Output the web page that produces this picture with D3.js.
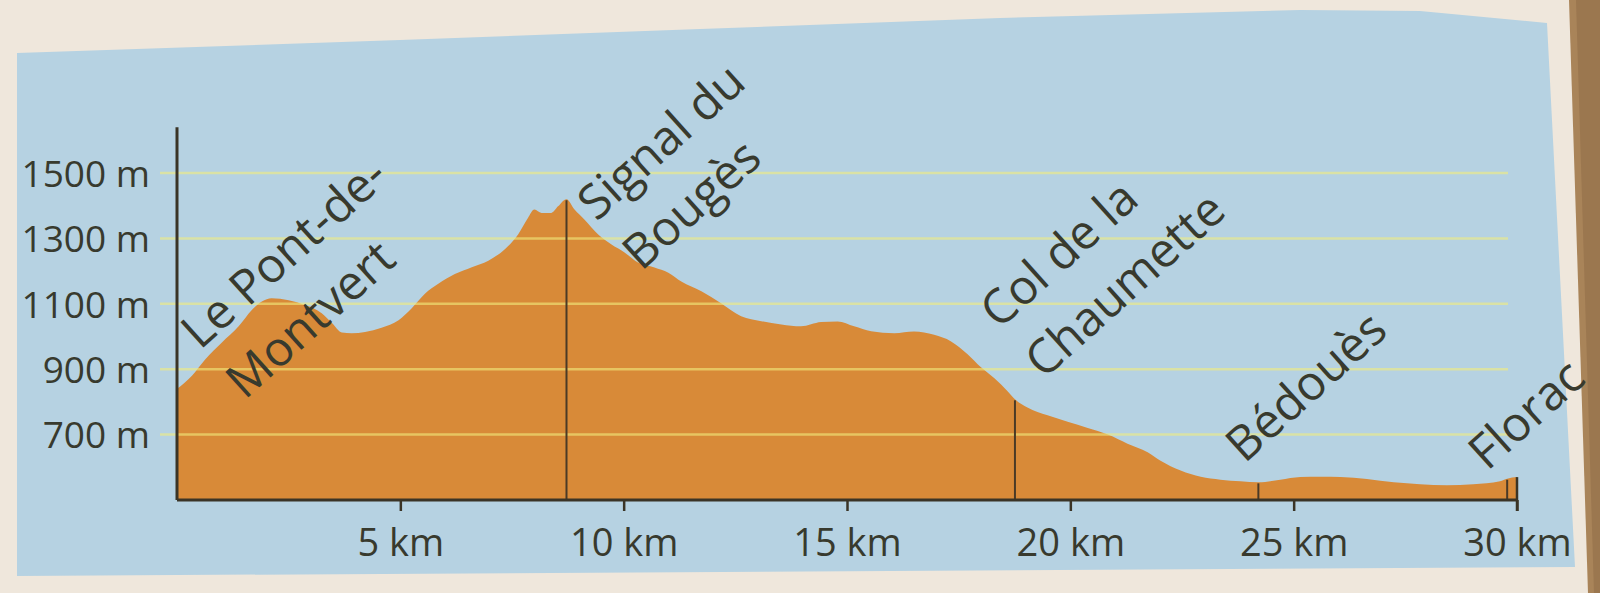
<!DOCTYPE html>
<html>
<head>
<meta charset="utf-8">
<script src="https://cdn.jsdelivr.net/npm/d3@7"></script>
<style>
  html, body { margin: 0; padding: 0; background: #efe7dc; }
  svg { display: block; }
  text { font-family: "Open Sans", "DejaVu Sans", sans-serif; fill: #383a2e; }
</style>
</head>
<body>
<svg id="chart" width="1600" height="593"></svg>
<script>
// ---- data ----
const distanceKm = [0.0,0.34,0.63,1.0,1.38,1.68,1.9,2.12,2.5,2.87,3.24,3.47,3.69,3.91,4.21,4.58,4.96,5.25,5.55,5.85,6.22,6.6,6.97,7.34,7.64,7.86,8.0,8.16,8.38,8.53,8.72,8.9,9.12,9.43,9.72,10.02,10.32,10.69,11.0,11.29,11.74,12.18,12.63,13.08,13.53,13.97,14.42,14.79,15.16,15.54,16.06,16.5,16.95,17.33,17.7,18.0,18.3,18.6,18.76,19.04,19.49,19.94,20.39,20.84,21.28,21.73,22.02,22.47,22.92,23.36,23.81,24.21,24.7,25.15,25.6,26.05,26.64,27.24,27.83,28.43,29.02,29.62,29.78,30.0];
const elevationM = [840,881,930,981,1031,1082,1107,1117,1111,1096,1071,1041,1012,1010,1014,1027,1050,1086,1131,1161,1191,1212,1232,1267,1313,1363,1388,1378,1378,1398,1420,1388,1358,1312,1282,1257,1226,1211,1195,1168,1138,1102,1062,1047,1037,1031,1044,1046,1031,1016,1010,1015,1005,985,946,906,872,832,808,783,759,739,720,700,672,646,620,590,571,562,557,554,562,570,571,570,564,554,548,545,548,557,565,570];

const placeLines = [["Le Pont-de-", "Montvert"], ["Signal du", "Bougès"], ["Col de la", "Chaumette"], ["Bédouès"], ["Florac"]];
const placeKm = [0, 8.72, 18.76, 24.21, 29.78];
const placeHasMarker = [false, true, true, true, true];

const yTicks = [700, 900, 1100, 1300, 1500];
const yTickLabels = ["700 m", "900 m", "1100 m", "1300 m", "1500 m"];
const xTicks = [5, 10, 15, 20, 25, 30];
const xTickLabels = ["5 km", "10 km", "15 km", "20 km", "25 km", "30 km"];

// ---- layout (not data) ----
const labelOffsets = [[23, -38], [30, 23], [-16, -69], [-14, -18], [-20, -7]];
const panelOutline = [[17,53],[400,40],[700,29],[1000,18],[1300,10],[1420,11],[1547,23],[1575,567],[17,576]];

const svg = d3.select("#chart");
const profile = distanceKm.map((d, i) => ({km: d, m: elevationM[i]}));

const x = d3.scaleLinear().domain([0, 30]).range([177, 1517]);
const y = d3.scaleLinear().domain([500, 1500]).range([500, 173]);

// page edge (binding side)
svg.append("path")
  .attr("d", "M1569,0 L1600,0 L1600,593 L1588,593 Z")
  .attr("fill", "#a98459");
svg.append("path")
  .attr("d", "M1576,0 L1600,0 L1600,593 L1594,593 Z")
  .attr("fill", "#8d6a45").attr("opacity", 0.5);

// blue panel
svg.append("path")
  .attr("d", d3.line()(panelOutline) + "Z")
  .attr("fill", "#b6d2e2");

// area
const area = d3.area()
  .x(d => x(d.km))
  .y0(y(500))
  .y1(d => y(d.m))
  .curve(d3.curveMonotoneX);
svg.append("path")
  .datum(profile)
  .attr("d", area)
  .attr("fill", "#d88a38");

// gridlines
svg.append("g").selectAll("line")
  .data(yTicks).join("line")
  .attr("x1", x(0) - 17).attr("x2", x(30) - 9)
  .attr("y1", d => y(d)).attr("y2", d => y(d))
  .attr("stroke", "rgb(242,236,125)")
  .attr("stroke-opacity", 0.6)
  .attr("stroke-width", 2.5);

// place marker lines
const bis = d3.bisector(d => d.km).left;
function elevAt(km) {
  const i = bis(profile, km);
  if (i <= 0) return profile[0].m;
  if (i >= profile.length) return profile[profile.length - 1].m;
  const a = profile[i - 1], b = profile[i];
  const t = (km - a.km) / (b.km - a.km);
  return a.m + t * (b.m - a.m);
}
svg.append("g").selectAll("line")
  .data(placeKm.filter((d, i) => placeHasMarker[i])).join("line")
  .attr("x1", d => x(d)).attr("x2", d => x(d))
  .attr("y1", d => y(elevAt(d)) + 1).attr("y2", y(500))
  .attr("stroke", "#4a3a26").attr("stroke-width", 2);

// end edge of profile
svg.append("line")
  .attr("x1", x(30)).attr("x2", x(30))
  .attr("y1", y(elevAt(30))).attr("y2", y(500) + 11)
  .attr("stroke", "#3a3426").attr("stroke-width", 2.5);

// axes
const xAxis = d3.axisBottom(x).tickValues(xTicks).tickSize(11).tickFormat((d, i) => xTickLabels[i]);
const gx = svg.append("g").attr("transform", `translate(0,${y(500)})`).call(xAxis);
gx.select(".domain").attr("stroke", "#3a3426").attr("stroke-width", 3).attr("d", `M${x(0)},0H${x(30)}`);
gx.selectAll(".tick line").attr("stroke", "#3a3426").attr("stroke-width", 2.5);
gx.selectAll(".tick text")
  .attr("y", 56).attr("dy", null)
  .style("font-family", '"Open Sans", sans-serif')
  .style("font-size", "38px").attr("fill", "#383a2e");

const yAxis = d3.axisLeft(y).tickValues(yTicks).tickSize(0).tickPadding(27).tickFormat((d, i) => yTickLabels[i]);
const gy = svg.append("g").attr("transform", `translate(${x(0)},0)`).call(yAxis);
gy.select(".domain").attr("stroke", "#3a3426").attr("stroke-width", 3)
  .attr("d", `M0,${y(500)}V${y(1640)}`);
gy.selectAll(".tick text")
  .attr("dy", "0.36em")
  .style("font-family", '"Open Sans", sans-serif')
  .style("font-size", "37px").attr("fill", "#383a2e");

// place labels (rotated)
const angle = -42;
const rad = -angle * Math.PI / 180;
const lineGap = 67;
placeLines.forEach((lines, i) => {
  const km = placeKm[i];
  const bx = x(km) + labelOffsets[i][0];
  const by = y(elevAt(km)) + labelOffsets[i][1];
  lines.forEach((txt, j) => {
    const sx = bx + j * lineGap * Math.sin(rad);
    const sy = by + j * lineGap * Math.cos(rad);
    svg.append("text")
      .attr("transform", `translate(${sx},${sy}) rotate(${angle})`)
      .attr("text-anchor", "start")
      .style("font-size", "48px")
      .text(txt);
  });
});
</script>
</body>
</html>
